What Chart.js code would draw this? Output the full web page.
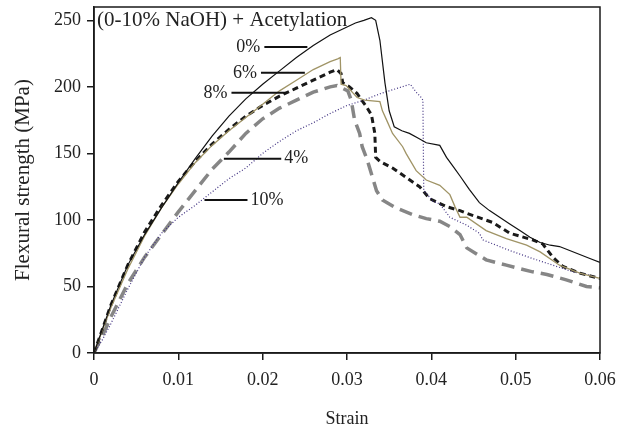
<!DOCTYPE html>
<html>
<head>
<meta charset="utf-8">
<script src="https://cdn.jsdelivr.net/npm/chart.js@4/dist/chart.umd.min.js"></script>
<style>
  html, body { margin: 0; padding: 0; background: #fff; }
  #wrap { width: 617px; height: 430px; }
</style>
</head>
<body>
<div id="wrap"><canvas id="flexChart"></canvas></div>
<script>
// values (strain, MPa)
const strain0 = [0, 0.001, 0.002, 0.004, 0.006, 0.008, 0.010, 0.012, 0.014, 0.016, 0.018, 0.020, 0.022, 0.024, 0.026, 0.028, 0.030, 0.031, 0.032, 0.0329, 0.0334, 0.0339, 0.0345, 0.0350, 0.0356, 0.0365, 0.0374, 0.0383, 0.0394, 0.0410, 0.0418, 0.0426, 0.0434, 0.0445, 0.0457, 0.0469, 0.0481, 0.0493, 0.0505, 0.0517, 0.0529, 0.0541, 0.0552, 0.0564, 0.0576, 0.0588, 0.06];
const stress0 = [0, 18, 36, 66, 89, 109, 128, 146, 163, 178, 191, 202, 212, 222, 231, 239, 245, 248, 250, 252, 250, 235, 203, 182, 170, 167, 165, 162, 158, 156, 147, 140, 133, 123, 113, 107, 102, 97, 92, 87, 83, 81, 80, 77, 74, 71, 68];

const strain4 = [0, 0.001, 0.002, 0.004, 0.006, 0.008, 0.010, 0.012, 0.014, 0.016, 0.018, 0.020, 0.022, 0.024, 0.026, 0.028, 0.0288, 0.0291, 0.0301, 0.0305, 0.0309, 0.0315, 0.0318, 0.0324, 0.0335, 0.0342, 0.0358, 0.0378, 0.0394, 0.0410, 0.0422, 0.0434, 0.0442, 0.0465, 0.0489, 0.0520, 0.0537, 0.0560, 0.0584, 0.06];
const stress4 = [0, 13, 27, 52, 72, 89, 106, 122, 138, 151, 165, 176, 184, 190, 196, 200, 201, 200, 197, 190, 175, 165, 155, 145, 122, 115, 109, 104, 101, 99, 95, 89, 79, 70, 66, 61, 59, 55, 50, 49];

const strain6 = [0, 0.001, 0.002, 0.004, 0.006, 0.008, 0.010, 0.012, 0.014, 0.016, 0.018, 0.020, 0.022, 0.024, 0.026, 0.028, 0.0289, 0.0292, 0.0293, 0.0299, 0.0312, 0.0321, 0.0339, 0.0342, 0.0347, 0.0354, 0.0366, 0.0370, 0.0382, 0.0394, 0.0410, 0.0422, 0.0428, 0.0434, 0.0442, 0.0465, 0.0489, 0.0513, 0.0529, 0.0552, 0.0576, 0.06];
const stress6 = [0, 17, 34, 63, 88, 109, 127, 143, 156, 167, 177, 187, 197, 205, 213, 219, 221, 222, 202, 201, 192, 190, 189, 182, 175, 165, 155, 150, 137, 130, 126, 119, 110, 102, 102, 92, 86, 81, 76, 66, 60, 56];

const strain8 = [0, 0.001, 0.002, 0.004, 0.006, 0.008, 0.010, 0.012, 0.014, 0.016, 0.018, 0.020, 0.022, 0.024, 0.026, 0.028, 0.0288, 0.0293, 0.0295, 0.0303, 0.0312, 0.0323, 0.0329, 0.0333, 0.0334, 0.0339, 0.0354, 0.0370, 0.0386, 0.0398, 0.0418, 0.0434, 0.0442, 0.0473, 0.0493, 0.0520, 0.0532, 0.0544, 0.0556, 0.0576, 0.06];
const stress8 = [0, 18, 36, 66, 91, 111, 129, 144, 157, 168, 178, 186, 193, 199, 205, 211, 213, 210, 203, 200, 195, 185, 179, 165, 147, 144, 139, 132, 125, 116, 110, 107, 105, 98, 90, 85, 82, 72, 65, 60, 56];

const strain10 = [0, 0.001, 0.002, 0.004, 0.006, 0.008, 0.010, 0.012, 0.014, 0.016, 0.018, 0.020, 0.022, 0.024, 0.026, 0.028, 0.030, 0.032, 0.034, 0.036, 0.0375, 0.0382, 0.0388, 0.0390, 0.0391, 0.0394, 0.0402, 0.0410, 0.0422, 0.0442, 0.0457, 0.0461, 0.0493, 0.0520, 0.0544, 0.0568, 0.0584, 0.06];
const stress10 = [0, 10, 22, 48, 72, 90, 102, 111, 121, 131, 139, 150, 159, 167, 173, 180, 186, 190, 195, 199, 202, 196, 192, 190, 122, 120, 114, 112, 102, 96, 90, 85, 77, 71, 66, 61, 59, 56];

const xTicks = [0, 0.01, 0.02, 0.03, 0.04, 0.05, 0.06];
const yTicks = [0, 50, 100, 150, 200, 250];

const heading = "(0-10% NaOH) + Acetylation";
const xTitle = "Strain";
const yTitle = "Flexural strength (MPa)";

const SERIF = "'Liberation Serif', 'Times New Roman', serif";

// leader lines for the series labels, in data units
const leaders = [
  { text: "0%", x1: 0.0202, x2: 0.0253, y: 230, side: "left" },
  { text: "6%", x1: 0.0198, x2: 0.0250, y: 210.5, side: "left" },
  { text: "8%", x1: 0.0163, x2: 0.0229, y: 195.5, side: "left" },
  { text: "4%", x1: 0.0154, x2: 0.0222, y: 146, side: "right" },
  { text: "10%", x1: 0.0131, x2: 0.0182, y: 115, side: "right" }
];

function toPoints(xs, ys) {
  return xs.map((x, i) => ({ x: x, y: ys[i] }));
}

const labelPlugin = {
  id: "labels",
  afterDatasetsDraw(chart) {
    const { ctx, chartArea, scales } = chart;
    ctx.save();
    // frame on top and right
    ctx.strokeStyle = "#1a1a1a";
    ctx.lineWidth = 1.5;
    ctx.strokeRect(chartArea.left, chartArea.top, chartArea.right - chartArea.left, chartArea.bottom - chartArea.top);

    ctx.fillStyle = "#222";
    ctx.font = "21px " + SERIF;
    ctx.textBaseline = "middle";
    ctx.textAlign = "left";
    ctx.fillText(heading, chartArea.left + 3, chartArea.top + 13);

    ctx.font = "18px " + SERIF;
    leaders.forEach(l => {
      const px1 = scales.x.getPixelForValue(l.x1);
      const px2 = scales.x.getPixelForValue(l.x2);
      const py = scales.y.getPixelForValue(l.y);
      ctx.strokeStyle = "#111";
      ctx.lineWidth = 2;
      ctx.beginPath();
      ctx.moveTo(px1, py);
      ctx.lineTo(px2, py);
      ctx.stroke();
      if (l.side === "left") {
        ctx.textAlign = "right";
        ctx.fillText(l.text, px1 - 4, py);
      } else {
        ctx.textAlign = "left";
        ctx.fillText(l.text, px2 + 3, py);
      }
    });
    ctx.restore();
  }
};

new Chart(document.getElementById("flexChart"), {
  type: "scatter",
  data: {
    datasets: [
      {
        label: "0%",
        data: toPoints(strain0, stress0),
        borderColor: "#111",
        borderWidth: 1.2
      },
      {
        label: "6%",
        data: toPoints(strain6, stress6),
        borderColor: "#a09466",
        borderWidth: 1.3
      },
      {
        label: "10%",
        data: toPoints(strain10, stress10),
        borderColor: "#3f3080",
        borderWidth: 1.2,
        borderDash: [1, 2]
      },
      {
        label: "8%",
        data: toPoints(strain8, stress8),
        borderColor: "#1a1a1a",
        borderWidth: 3,
        borderDash: [6, 4]
      },
      {
        label: "4%",
        data: toPoints(strain4, stress4),
        borderColor: "#868686",
        borderWidth: 3.5,
        borderDash: [13, 7]
      }
    ]
  },
  options: {
    responsive: true,
    maintainAspectRatio: false,
    animation: false,
    showLine: true,
    elements: {
      point: { radius: 0 },
      line: { tension: 0, fill: false }
    },
    layout: { padding: { top: 7, right: 17, left: 0, bottom: 0 } },
    plugins: {
      legend: { display: false },
      tooltip: { enabled: false }
    },
    scales: {
      x: {
        type: "linear",
        min: 0,
        max: 0.06,
        afterBuildTicks: s => { s.ticks = xTicks.map(v => ({ value: v })); },
        afterFit: s => { s.height = 77; s.paddingLeft = 0; s.paddingRight = 0; },
        grid: { drawOnChartArea: false, color: "#1a1a1a", tickLength: 7, lineWidth: 1.5 },
        border: { color: "#1a1a1a", width: 1.5 },
        ticks: {
          color: "#222",
          font: { family: SERIF, size: 18 },
          padding: 9,
          maxRotation: 0,
          callback: v => String(v)
        },
        title: {
          display: true,
          text: xTitle,
          color: "#222",
          font: { family: SERIF, size: 18 },
          padding: { top: 0, bottom: 0 }
        }
      },
      y: {
        min: 0,
        max: 260,
        afterBuildTicks: s => { s.ticks = yTicks.map(v => ({ value: v })); },
        afterFit: s => { s.width = 94; s.paddingTop = 0; s.paddingBottom = 0; },
        grid: { drawOnChartArea: false, color: "#1a1a1a", tickLength: 7, lineWidth: 1.5 },
        border: { color: "#1a1a1a", width: 1.5 },
        ticks: {
          color: "#222",
          font: { family: SERIF, size: 18 },
          padding: 6,
          callback: v => String(v)
        },
        title: {
          display: true,
          text: yTitle,
          color: "#222",
          font: { family: SERIF, size: 21 },
          padding: { top: 11, bottom: 0 }
        }
      }
    }
  },
  plugins: [labelPlugin]
});
</script>
</body>
</html>
